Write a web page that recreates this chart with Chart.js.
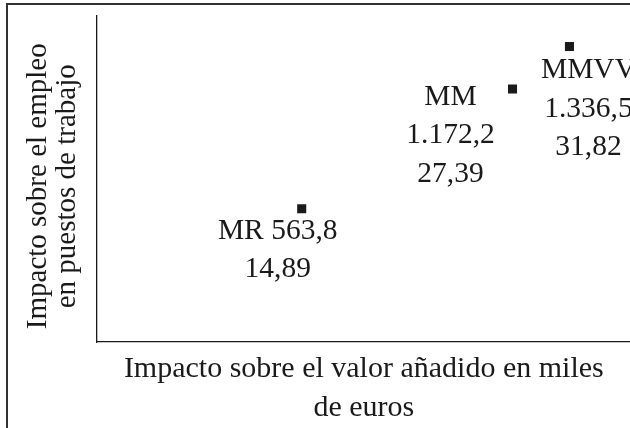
<!DOCTYPE html>
<html>
<head>
<meta charset="utf-8">
<script src="https://cdn.jsdelivr.net/npm/chart.js@4/dist/chart.umd.min.js"></script>
<style>
body { margin: 0; background: #fff; }
#wrap { position: relative; width: 630px; height: 428px; overflow: hidden; }
#frameTop { position: absolute; left: 6px; top: 3px; width: 624px; height: 2px; background: #333; }
#frameLeft { position: absolute; left: 6px; top: 3px; width: 2px; height: 425px; background: #333; }
</style>
</head>
<body>
<div id="wrap">
<canvas id="impacto" width="637" height="428"></canvas>
<div id="frameTop"></div>
<div id="frameLeft"></div>
</div>
<script>
// datos
var nombres = ["MR", "MM", "MMVV"];
var valorAnadido = [563.8, 1172.2, 1336.5];   // miles de euros
var empleo = [14.89, 27.39, 31.82];            // puestos de trabajo

// where each label sits relative to its point (px)
var labelDx = [-24, -62, 19];
var labelDy = [22, 8, 24];
var labelOneLine = [true, false, false];

function fmt(v, dec) {
  var s = v.toFixed(dec).split(".");
  var ent = s[0].replace(/\B(?=(\d{3})+(?!\d))/g, ".");
  return ent + "," + s[1];
}

var puntos = valorAnadido.map(function (x, i) { return { x: x, y: empleo[i] }; });

var etiquetas = {
  id: "etiquetas",
  afterDatasetsDraw: function (chart) {
    var ctx = chart.ctx;
    var meta = chart.getDatasetMeta(0);
    ctx.save();
    ctx.font = "29.5px 'Liberation Serif', serif";
    ctx.fillStyle = "#1a1a1a";
    ctx.textAlign = "center";
    ctx.textBaseline = "middle";
    meta.data.forEach(function (pt, i) {
      var lines;
      if (labelOneLine[i]) {
        lines = [nombres[i] + " " + fmt(valorAnadido[i], 1), fmt(empleo[i], 2)];
      } else {
        lines = [nombres[i], fmt(valorAnadido[i], 1), fmt(empleo[i], 2)];
      }
      lines.forEach(function (t, k) {
        ctx.fillText(t, pt.x + labelDx[i], pt.y + labelDy[i] + k * 38.5);
      });
    });
    ctx.restore();
  }
};

var chart = new Chart(document.getElementById("impacto").getContext("2d"), {
  type: "scatter",
  data: {
    datasets: [{
      data: puntos,
      pointStyle: "rect",
      pointRadius: 6.4,
      pointHoverRadius: 6.4,
      backgroundColor: "#1a1a1a",
      borderColor: "#1a1a1a",
      borderWidth: 0
    }]
  },
  options: {
    responsive: false,
    animation: false,
    events: [],
    layout: { padding: { top: 16, right: 0, left: 0, bottom: 0 } },
    plugins: { legend: { display: false }, tooltip: { enabled: false } },
    scales: {
      x: {
        type: "linear",
        min: -27,
        max: 1513,
        grid: { display: false },
        border: { display: true, color: "#1a1a1a", width: 1.3 },
        ticks: { display: false },
        afterFit: function (s) { s.height = 86; },
        title: {
          display: true,
          text: ["Impacto sobre el valor añadido en miles", "de euros"],
          color: "#1a1a1a",
          font: { family: "'Liberation Serif', serif", size: 30, lineHeight: 1.28 },
          padding: { top: 0, bottom: 1 }
        }
      },
      y: {
        type: "linear",
        min: 1,
        max: 35,
        grid: { display: false },
        border: { display: true, color: "#1a1a1a", width: 1.3 },
        ticks: { display: false },
        afterFit: function (s) { s.width = 97; },
        title: {
          display: true,
          text: ["Impacto sobre el empleo  ", "en puestos de trabajo  "],
          color: "#1a1a1a",
          font: { family: "'Liberation Serif', serif", size: 29, lineHeight: 1.0 },
          padding: { top: 23.5, bottom: 0 }
        }
      }
    }
  },
  plugins: [etiquetas]
});
</script>
</body>
</html>
